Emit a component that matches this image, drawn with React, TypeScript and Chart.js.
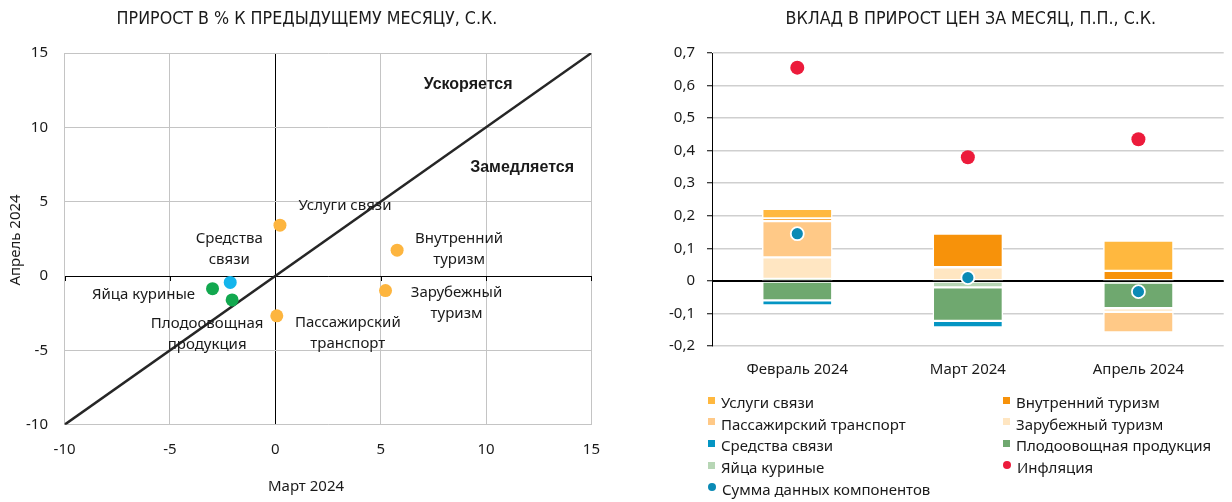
import React, { useEffect, useRef } from "react";
import { Chart, registerables } from "chart.js";

Chart.register(...registerables);

// ---------------- DATA: left scatter (March vs April, % m/m, s.a.) ----------------
const scatterNames = [
  "Услуги связи",
  "Внутренний туризм",
  "Зарубежный туризм",
  "Пассажирский транспорт",
  "Средства связи",
  "Яйца куриные",
  "Плодоовощная продукция",
];
const marchChange = [0.22, 5.78, 5.23, 0.07, -2.14, -2.98, -2.05];
const aprilChange = [3.42, 1.74, -0.98, -2.68, -0.43, -0.85, -1.61];
const diagonalEnds = [-10, 15];
const leftTicks = [-10, -5, 0, 5, 10, 15];
const leftTitle = "ПРИРОСТ В % К ПРЕДЫДУЩЕМУ МЕСЯЦУ, С.К.";
const leftXTitle = "Март 2024";
const leftYTitle = "Апрель 2024";
const zoneLabels = ["Ускоряется", "Замедляется"];
const zoneLabelX = [9.15, 11.71];
const zoneLabelY = [12.85, 7.26];

// ---------------- DATA: right stacked bars (contribution, p.p., s.a.) ----------------
const months = ["Февраль 2024", "Март 2024", "Апрель 2024"];
const eggs = [0.006, -0.02, -0.005];
const fruitVeg = [-0.06, -0.103, -0.079];
const commDevices = [-0.015, -0.02, 0];
const foreignTourism = [0.066, 0.042, -0.011];
const passengerTransport = [0.112, 0, -0.063];
const domesticTourism = [0.008, 0.103, 0.031];
const commServices = [0.029, 0, 0.093];
const inflation = [0.655, 0.38, 0.435];
const componentsSum = [0.145, 0.01, -0.033];
const rightTicks = [-0.2, -0.1, 0, 0.1, 0.2, 0.3, 0.4, 0.5, 0.6, 0.7];
const rightTitle = "ВКЛАД В ПРИРОСТ ЦЕН ЗА МЕСЯЦ, П.П., С.К.";

// ---------------- STYLES ----------------
const FONT = "'Noto Sans', 'DejaVu Sans', sans-serif";
const NARROW = "'Liberation Sans Narrow', 'Arial Narrow', 'DejaVu Sans Condensed', 'Roboto', sans-serif";
const BOLD = "'Liberation Sans', Arial, sans-serif";
const TEXT = "#1a1a1a";
const FS = 15;

const C_ORANGE_PT = "#FDB53F";
const C_BLUE_PT = "#14B5EC";
const C_GREEN_PT = "#12A84F";
const pointColors = [C_ORANGE_PT, C_ORANGE_PT, C_ORANGE_PT, C_ORANGE_PT, C_BLUE_PT, C_GREEN_PT, C_GREEN_PT];

// label placement (pixel offsets from each point's centre)
const labelLayout = [
  { lines: ["Услуги связи"], dx: 65, dy: [-19] },
  { lines: ["Внутренний", "туризм"], dx: 62, dy: [-11, 10] },
  { lines: ["Зарубежный", "туризм"], dx: 71, dy: [2, 23] },
  { lines: ["Пассажирский", "транспорт"], dx: 71, dy: [7, 28] },
  { lines: ["Средства", "связи"], dx: -1, dy: [-44, -23] },
  { lines: ["Яйца куриные"], dx: -69, dy: [6] },
  { lines: ["Плодоовощная", "продукция"], dx: -25, dy: [24, 45] },
];

const COL = {
  services: "#FFB83F",
  domestic: "#F7920A",
  passenger: "#FFC987",
  foreign: "#FFE6C2",
  devices: "#0495C3",
  fruit: "#6FA86F",
  eggs: "#B7D6B5",
  inflation: "#EC1B3B",
  sum: "#0A8AB5",
};

function LeftChart() {
  const ref = useRef<HTMLCanvasElement>(null);
  useEffect(() => {
    const annotations = {
      id: "leftAnnotations",
      beforeDatasetsDraw(chart: any) {
        const { ctx, scales } = chart;
        const xs = scales.x;
        const ys = scales.y;
        const y0 = ys.getPixelForValue(0);
        ctx.save();
        ctx.strokeStyle = "#000";
        ctx.lineWidth = 1;
        leftTicks.forEach((v) => {
          const px = Math.round(xs.getPixelForValue(v)) + 0.5;
          ctx.beginPath();
          ctx.moveTo(px, y0);
          ctx.lineTo(px, y0 + 5);
          ctx.stroke();
        });
        ctx.restore();
      },
      afterDatasetsDraw(chart: any) {
        const { ctx, scales } = chart;
        const xs = scales.x;
        const ys = scales.y;
        ctx.save();
        ctx.fillStyle = TEXT;
        ctx.textAlign = "center";
        ctx.textBaseline = "middle";
        // point labels
        ctx.font = `${FS}px ${FONT}`;
        scatterNames.forEach((_, i) => {
          const px = xs.getPixelForValue(marchChange[i]);
          const py = ys.getPixelForValue(aprilChange[i]);
          const lay = labelLayout[i];
          lay.lines.forEach((t, k) => ctx.fillText(t, px + lay.dx, py + lay.dy[k]));
        });
        // zone labels
        ctx.font = `bold 16px ${BOLD}`;
        zoneLabels.forEach((t, i) => {
          ctx.fillText(t, xs.getPixelForValue(zoneLabelX[i]), ys.getPixelForValue(zoneLabelY[i]));
        });
        // titles
        ctx.font = `17.7px ${NARROW}`;
        ctx.fillText(leftTitle, 307, 19);
        ctx.font = `${FS}px ${FONT}`;
        ctx.fillText(leftXTitle, 306, 487);
        ctx.translate(16, 240);
        ctx.rotate(-Math.PI / 2);
        ctx.fillText(leftYTitle, 0, 0);
        ctx.restore();
      },
    };
    const chart = new Chart(ref.current!, {
      type: "scatter",
      data: {
        datasets: [
          {
            label: "Товары и услуги",
            data: marchChange.map((x, i) => ({ x, y: aprilChange[i] })),
            pointRadius: 6.5,
            pointBackgroundColor: pointColors,
            pointBorderWidth: 0,
            order: 0,
          } as any,
          {
            type: "line",
            label: "y = x",
            data: diagonalEnds.map((v) => ({ x: v, y: v })),
            borderColor: "#262626",
            borderWidth: 2.5,
            pointRadius: 0,
            showLine: true,
            order: 1,
          } as any,
        ],
      },
      options: {
        responsive: false,
        animation: false,
        layout: { padding: { top: 53, right: 28.6, left: 0, bottom: 0 } },
        plugins: { legend: { display: false }, tooltip: { enabled: false }, title: { display: false } },
        scales: {
          x: {
            type: "linear",
            min: -10,
            max: 15,
            afterBuildTicks: (s: any) => {
              s.ticks = leftTicks.map((v) => ({ value: v }));
            },
            afterFit: (s: any) => {
              s.height = 77.3;
            },
            grid: {
              color: (c: any) => (c.tick && c.tick.value === 0 ? "#000" : "#c4c4c4"),
              lineWidth: 1,
              drawTicks: false,
            },
            border: { display: false },
            ticks: { padding: 16, font: { family: FONT, size: FS }, color: TEXT, maxRotation: 0 },
          },
          y: {
            type: "linear",
            min: -10,
            max: 15,
            afterBuildTicks: (s: any) => {
              s.ticks = leftTicks.map((v) => ({ value: v }));
            },
            afterFit: (s: any) => {
              s.width = 64.6;
            },
            grid: {
              color: (c: any) => (c.tick && c.tick.value === 0 ? "#000" : "#c4c4c4"),
              lineWidth: 1,
              drawTicks: false,
            },
            border: { display: false },
            ticks: { padding: 16.6, font: { family: FONT, size: FS }, color: TEXT },
          },
        },
      },
      plugins: [annotations],
    } as any);
    return () => chart.destroy();
  }, []);
  return <canvas ref={ref} width={620} height={502} style={{ position: "absolute", left: 0, top: 0 }} />;
}

const barSeries = [
  { label: "Яйца куриные", data: eggs, color: COL.eggs },
  { label: "Плодоовощная продукция", data: fruitVeg, color: COL.fruit },
  { label: "Средства связи", data: commDevices, color: COL.devices },
  { label: "Зарубежный туризм", data: foreignTourism, color: COL.foreign },
  { label: "Пассажирский транспорт", data: passengerTransport, color: COL.passenger },
  { label: "Внутренний туризм", data: domesticTourism, color: COL.domestic },
  { label: "Услуги связи", data: commServices, color: COL.services },
];

const legendItems = [
  { label: "Услуги связи", color: COL.services, dot: false },
  { label: "Внутренний туризм", color: COL.domestic, dot: false },
  { label: "Пассажирский транспорт", color: COL.passenger, dot: false },
  { label: "Зарубежный туризм", color: COL.foreign, dot: false },
  { label: "Средства связи", color: COL.devices, dot: false },
  { label: "Плодоовощная продукция", color: COL.fruit, dot: false },
  { label: "Яйца куриные", color: COL.eggs, dot: false },
  { label: "Инфляция", color: COL.inflation, dot: true },
  { label: "Сумма данных компонентов", color: COL.sum, dot: true },
];

function fmt(v: number) {
  if (Math.abs(v) < 1e-9) return "0";
  return v.toFixed(1).replace(".", ",");
}

function RightChart() {
  const ref = useRef<HTMLCanvasElement>(null);
  useEffect(() => {
    const sumIndex = 1;
    const overlay = {
      id: "rightOverlay",
      beforeDatasetDraw(chart: any, args: any) {
        if (args.index !== sumIndex) return;
        const { ctx, scales, chartArea } = chart;
        const y0 = Math.round(scales.y.getPixelForValue(0)) + 0.5;
        ctx.save();
        ctx.strokeStyle = "#000";
        ctx.lineWidth = 1;
        ctx.beginPath();
        ctx.moveTo(chartArea.left, y0);
        ctx.lineTo(chartArea.right, y0);
        ctx.stroke();
        ctx.restore();
      },
      afterDraw(chart: any) {
        const { ctx, chartArea } = chart;
        ctx.save();
        ctx.fillStyle = TEXT;
        ctx.textAlign = "center";
        ctx.textBaseline = "middle";
        ctx.font = `17.7px ${NARROW}`;
        ctx.fillText(rightTitle, (chartArea.left + chartArea.right) / 2 + 3, 19);
        ctx.restore();
      },
    };
    const chart = new Chart(ref.current!, {
      type: "bar",
      data: {
        labels: months,
        datasets: [
          {
            type: "line",
            label: "Инфляция",
            data: inflation,
            stack: "infl",
            showLine: false,
            pointRadius: 7,
            pointBackgroundColor: COL.inflation,
            pointBorderWidth: 0,
            order: -2,
          },
          {
            type: "line",
            label: "Сумма данных компонентов",
            data: componentsSum,
            stack: "sum",
            showLine: false,
            pointRadius: 6.5,
            pointBackgroundColor: COL.sum,
            pointBorderColor: "#ffffff",
            pointBorderWidth: 1.8,
            order: -1,
          },
          ...barSeries.map((s) => ({
            type: "bar",
            label: s.label,
            data: s.data,
            backgroundColor: s.color,
            borderColor: "#ffffff",
            borderWidth: 1.5,
            borderSkipped: false,
            barThickness: 70,
            stack: "components",
            order: 0,
          })),
        ],
      },
      options: {
        responsive: false,
        animation: false,
        layout: { padding: { top: 53, right: 7, left: 0, bottom: 116 } },
        plugins: { legend: { display: false }, tooltip: { enabled: false }, title: { display: false } },
        scales: {
          x: {
            stacked: true,
            afterFit: (s: any) => {
              s.height = 40;
            },
            grid: { display: false, drawTicks: false },
            border: { display: false },
            ticks: { padding: 15, font: { family: FONT, size: FS }, color: TEXT, maxRotation: 0 },
          },
          y: {
            stacked: true,
            min: -0.2,
            max: 0.7,
            afterBuildTicks: (s: any) => {
              s.ticks = rightTicks.map((v) => ({ value: v }));
            },
            afterFit: (s: any) => {
              s.width = 92;
            },
            grid: {
              color: (c: any) => (c.tick && Math.abs(c.tick.value) < 1e-9 ? "#000" : "#cfcfcf"),
              lineWidth: 1.5,
              tickColor: "#000",
              tickLength: 5,
              tickWidth: 1,
            },
            border: { display: true, color: "#000", width: 1 },
            ticks: {
              padding: 12,
              font: { family: FONT, size: FS },
              color: TEXT,
              callback: (v: any) => fmt(Number(v)),
            },
          },
        },
      },
      plugins: [overlay],
    } as any);
    return () => chart.destroy();
  }, []);
  return (
    <>
      <canvas ref={ref} width={612} height={502} style={{ position: "absolute", left: 620, top: 0 }} />
      <div style={{ position: "absolute", left: 0, top: 0, fontFamily: FONT, fontSize: FS, color: TEXT }}>
        {legendItems.map((it, i) => {
          const col = i % 2;
          const row = Math.floor(i / 2);
          const left = col === 0 ? 708 : 1003;
          const top = 402 + row * 21.7;
          return (
            <div
              key={it.label}
              style={{ position: "absolute", left, top: top - 10, height: 20, display: "flex", alignItems: "center", whiteSpace: "nowrap" }}
            >
              <span
                style={{
                  display: "inline-block",
                  width: it.dot ? 8 : 7,
                  height: it.dot ? 8 : 7,
                  borderRadius: it.dot ? "50%" : 0,
                  background: it.color,
                  marginRight: 6,
                  marginTop: -4,
                }}
              />
              <span>{it.label}</span>
            </div>
          );
        })}
      </div>
    </>
  );
}

export default function App() {
  return (
    <div style={{ position: "absolute", left: 0, top: 0, width: 1232, height: 502, background: "#fff", overflow: "hidden" }}>
      <LeftChart />
      <RightChart />
    </div>
  );
}
